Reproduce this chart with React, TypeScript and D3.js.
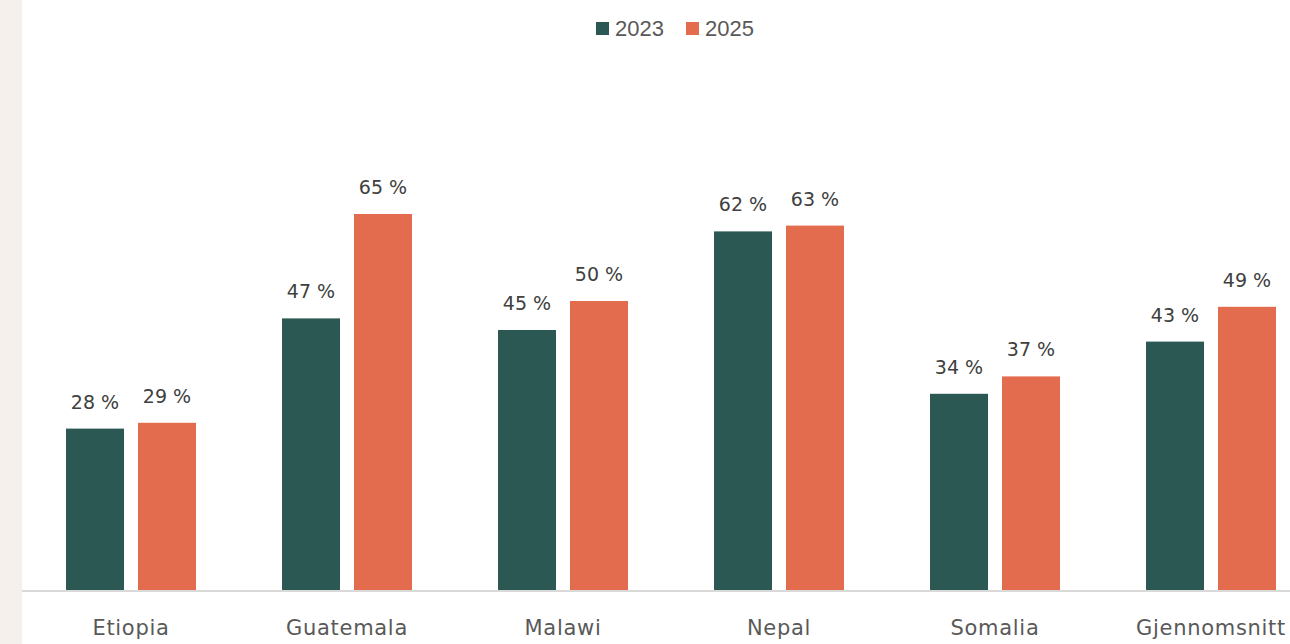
import React from "react";
import * as d3 from "d3";

const categories = ["Etiopia", "Guatemala", "Malawi", "Nepal", "Somalia", "Gjennomsnitt"];
const series = ["2023", "2025"];
const values2023 = [28, 47, 45, 62, 34, 43];
const values2025 = [29, 65, 50, 63, 37, 49];
const colors = ["#2b5852", "#e46c4e"];

const W = 1290;
const H = 644;
const baseline = 591;

export default function App() {
  const x = d3.scaleBand<string>().domain(categories).range([23, 1319]).paddingInner(0).paddingOuter(0);
  const inner = d3.scaleBand<string>().domain(series).range([0, 130]).paddingInner(14 / 72);
  const y = d3.scaleLinear().domain([0, 100]).range([baseline, 11]);
  const data = [values2023, values2025];
  const font = "'DejaVu Sans', 'Noto Sans', sans-serif";
  return (
    <svg width={W} height={H} style={{ position: "absolute", left: 0, top: 0, background: "#fff" }}>
      <rect x={0} y={0} width={22} height={H} fill="#f5f0ec" />
      {categories.map((c, i) => {
        const gx = x(c)! + x.bandwidth() / 2 - 65;
        return (
          <g key={c}>
            {series.map((s, j) => {
              const v = data[j][i];
              const bx = gx + inner(s)!;
              return (
                <g key={s}>
                  <rect x={bx} y={y(v)} width={inner.bandwidth()} height={baseline - y(v)} fill={colors[j]} />
                  <text x={bx + inner.bandwidth() / 2} y={y(v) - 20} textAnchor="middle" fontFamily={font} fontSize={19} fill="#404040">
                    {v} %
                  </text>
                </g>
              );
            })}
            <text x={x(c)! + x.bandwidth() / 2} y={635} textAnchor="middle" fontFamily={font} fontSize={21} letterSpacing={0.7} fill="#595959">
              {c}
            </text>
          </g>
        );
      })}
      <line x1={22} x2={W} y1={baseline} y2={baseline} stroke="#d9d9d9" strokeWidth={2} />
      {series.map((s, j) => (
        <g key={s} transform={`translate(${596 + j * 90},22)`}>
          <rect x={0} y={0} width={13} height={13} fill={colors[j]} />
          <text x={19} y={14} fontFamily="'Liberation Sans', Arial, sans-serif" fontSize={22} fill="#595959">
            {s}
          </text>
        </g>
      ))}
    </svg>
  );
}
